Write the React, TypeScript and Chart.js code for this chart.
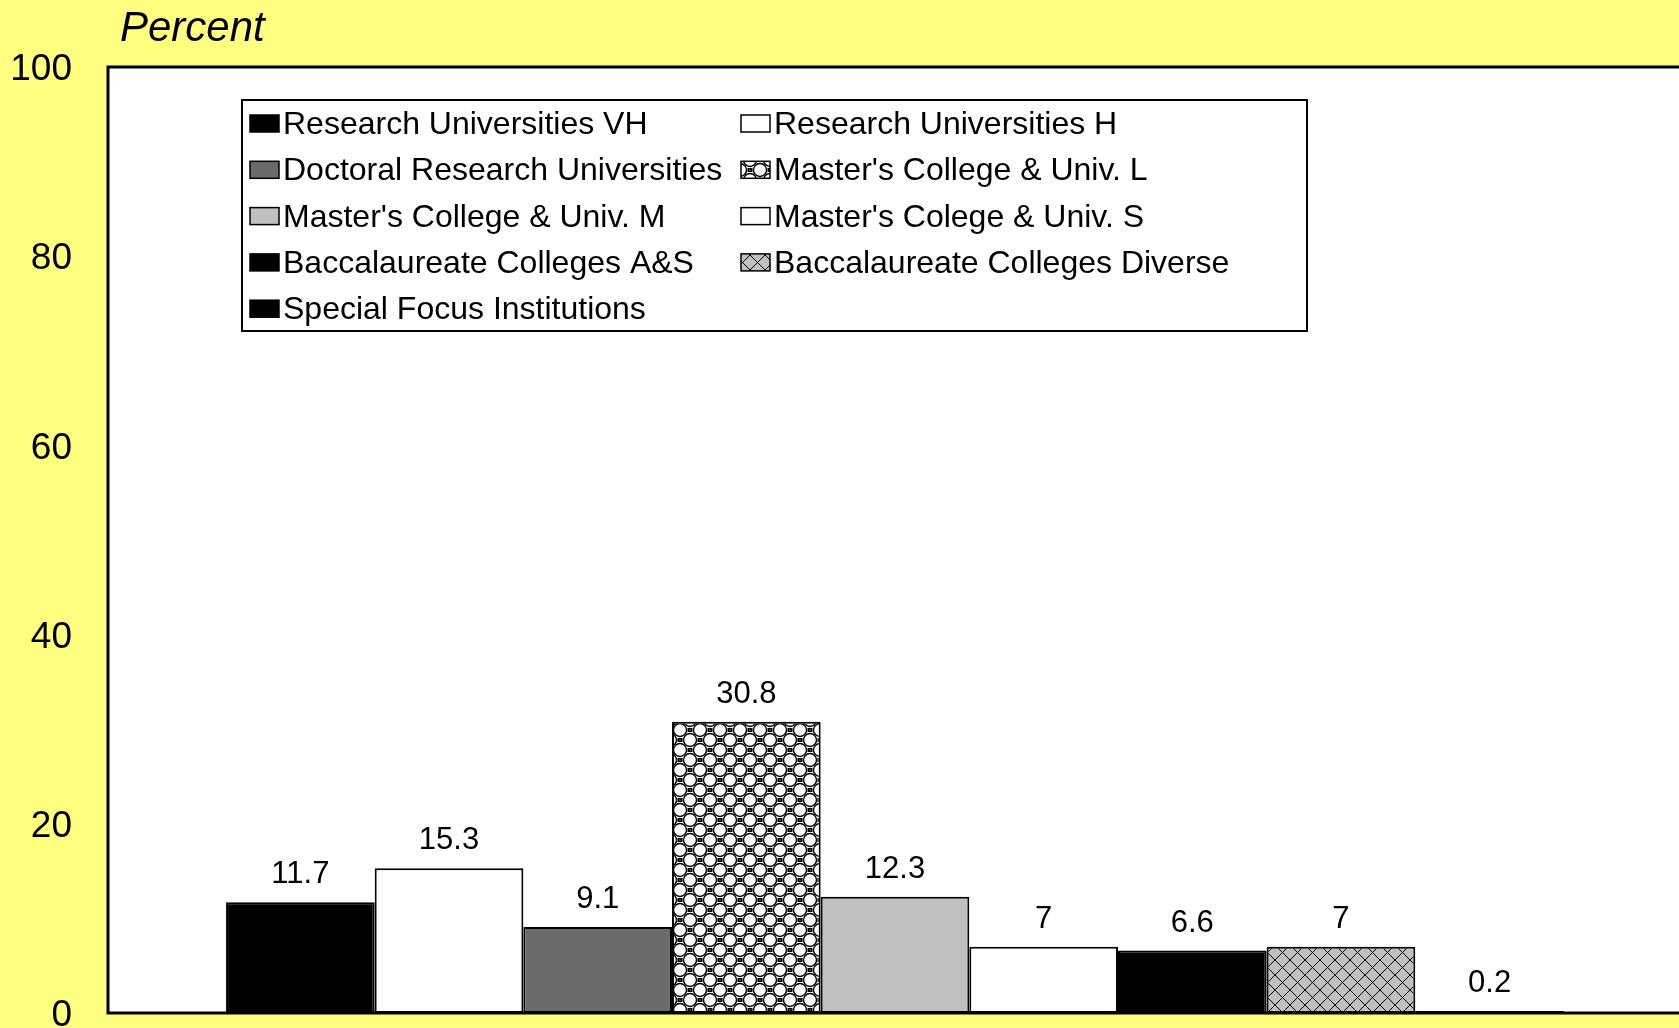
import React, { useEffect, useRef } from "react";
import { Chart, registerables } from "chart.js";

Chart.register(...registerables);

const categories = [""];
const seriesLabels = [
  "Research Universities VH",
  "Research Universities H",
  "Doctoral Research Universities",
  "Master's College & Univ. L",
  "Master's College & Univ. M",
  "Master's Colege & Univ. S",
  "Baccalaureate Colleges A&S",
  "Baccalaureate Colleges Diverse",
  "Special Focus Institutions",
];
const seriesValues = [11.7, 15.3, 9.1, 30.8, 12.3, 7, 6.6, 7, 0.2];
const yTickValues = [0, 20, 40, 60, 80, 100];
const titleText = "Percent";

// fill style kinds (styles, not data)
const seriesFillKinds = ["#000000", "#ffffff", "#6b6b6b", "dots", "#c0c0c0", "#ffffff", "#000000", "cross", "#000000"];

const FONT = "'Liberation Sans', Arial, sans-serif";
const BG = "#FFFF80";

function makeDotsPattern(ctx: CanvasRenderingContext2D) {
  const c = document.createElement("canvas");
  c.width = 20;
  c.height = 20;
  const g = c.getContext("2d")!;
  g.fillStyle = "#fff";
  g.fillRect(0, 0, 20, 20);
  g.strokeStyle = "#000";
  g.lineWidth = 1.4;
  const circles = [
    [10, 0],
    [0, 10],
    [20, 10],
    [10, 20],
  ];
  for (const [x, y] of circles) {
    g.beginPath();
    g.arc(x, y, 6.5, 0, Math.PI * 2);
    g.stroke();
  }
  const squares = [
    [0, 0],
    [20, 0],
    [0, 20],
    [20, 20],
    [10, 10],
  ];
  for (const [x, y] of squares) {
    g.fillStyle = "#000";
    g.fillRect(x - 2.5, y - 2, 5, 4);
    g.fillStyle = "#fff";
    g.fillRect(x - 0.5, y - 0.5, 1, 1);
  }
  return ctx.createPattern(c, "repeat")!;
}

function makeCrossPattern(ctx: CanvasRenderingContext2D) {
  const s = 15;
  const c = document.createElement("canvas");
  c.width = s;
  c.height = s;
  const g = c.getContext("2d")!;
  g.fillStyle = "#c0c0c0";
  g.fillRect(0, 0, s, s);
  g.strokeStyle = "#000";
  g.lineWidth = 1;
  g.beginPath();
  g.moveTo(0, 0);
  g.lineTo(s, s);
  g.moveTo(s, 0);
  g.lineTo(0, s);
  g.stroke();
  return ctx.createPattern(c, "repeat")!;
}

export default function App() {
  const ref = useRef<HTMLCanvasElement | null>(null);

  useEffect(() => {
    const canvas = ref.current!;
    const ctx = canvas.getContext("2d")!;
    const dots = makeDotsPattern(ctx);
    const cross = makeCrossPattern(ctx);
    const fills = seriesFillKinds.map((k) => (k === "dots" ? dots : k === "cross" ? cross : k));

    const decor = {
      id: "decor",
      beforeDraw(chart: any) {
        const c = chart.ctx;
        const a = chart.chartArea;
        c.save();
        c.fillStyle = BG;
        c.fillRect(0, 0, chart.width, chart.height);
        c.fillStyle = "#ffffff";
        c.fillRect(a.left, a.top, a.right - a.left, a.bottom - a.top);
        c.restore();
      },
      afterDatasetsDraw(chart: any) {
        const c = chart.ctx;
        const a = chart.chartArea;
        c.save();
        // plot border
        c.strokeStyle = "#000";
        c.lineWidth = 3;
        c.strokeRect(a.left, a.top, a.right - a.left, a.bottom - a.top);

        // value labels
        c.fillStyle = "#000";
        c.font = `31px ${FONT}`;
        c.textAlign = "center";
        c.textBaseline = "alphabetic";
        chart.data.datasets.forEach((ds: any, i: number) => {
          const el = chart.getDatasetMeta(i).data[0];
          if (!el) return;
          c.fillText(String(ds.data[0]), el.x, el.y - 19);
        });

        // title
        c.font = `italic 42px ${FONT}`;
        c.textAlign = "left";
        c.fillText(titleText, a.left + 12, 41);

        // legend
        const lx = a.left + 134;
        const ly = a.top + 33;
        const lw = 1065;
        const lh = 231;
        c.fillStyle = "#fff";
        c.fillRect(lx, ly, lw, lh);
        c.strokeStyle = "#000";
        c.lineWidth = 2;
        c.strokeRect(lx, ly, lw, lh);
        c.font = `32px ${FONT}`;
        c.textAlign = "left";
        chart.data.datasets.forEach((ds: any, i: number) => {
          const row = Math.floor(i / 2);
          const col = i % 2;
          const cy = ly + 23 + row * 46.3;
          const sx = lx + 8 + col * 491;
          c.fillStyle = ds.backgroundColor;
          c.fillRect(sx, cy - 8, 29, 17);
          c.strokeStyle = "#000";
          c.lineWidth = 1.5;
          c.strokeRect(sx, cy - 8, 29, 17);
          c.fillStyle = "#000";
          c.fillText(ds.label, sx + 33, cy + 11);
        });
        c.restore();
      },
    };

    const chart = new Chart(canvas, {
      type: "bar",
      data: {
        labels: categories,
        datasets: seriesLabels.map((label, i) => ({
          label,
          data: [seriesValues[i]],
          backgroundColor: fills[i] as any,
          borderColor: "#000000",
          borderWidth: 2,
          borderSkipped: false,
        })),
      },
      options: {
        animation: false,
        responsive: false,
        devicePixelRatio: 1,
        events: [],
        layout: { padding: { left: 0, right: 8, top: 67, bottom: 15 } },
        datasets: { bar: { categoryPercentage: 0.85, barPercentage: 1 } } as any,
        plugins: {
          legend: { display: false },
          tooltip: { enabled: false },
          title: { display: false },
        },
        scales: {
          x: { type: "category", display: false },
          y: {
            min: 0,
            max: 100,
            grid: { display: false, drawTicks: false },
            border: { display: false },
            afterBuildTicks: (scale: any) => {
              scale.ticks = yTickValues.map((v) => ({ value: v }));
            },
            afterFit: (scale: any) => {
              scale.width = 108;
              scale.paddingTop = 0;
              scale.paddingBottom = 0;
            },
            ticks: {
              color: "#000",
              padding: 36,
              labelOffset: 3,
              font: { family: FONT, size: 37 },
            },
          },
        },
      },
      plugins: [decor],
    });

    return () => chart.destroy();
  }, []);

  return (
    <div
      style={{
        position: "fixed",
        left: 0,
        top: 0,
        width: 1679,
        height: 1028,
        overflow: "hidden",
        background: BG,
      }}
    >
      <canvas ref={ref} width={1690} height={1028} style={{ display: "block" }} />
    </div>
  );
}
